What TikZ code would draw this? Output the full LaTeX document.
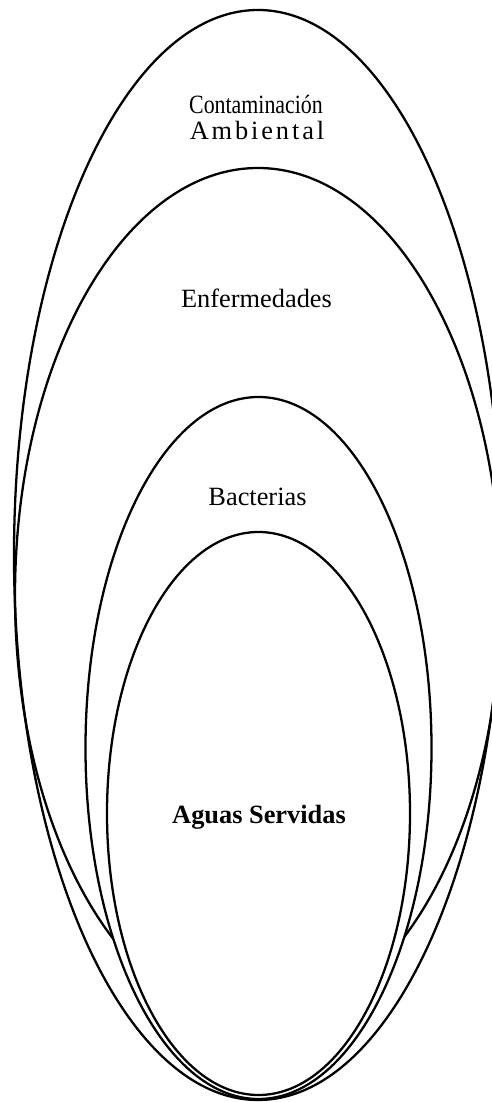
\documentclass[tikz,border=0pt]{standalone}
\usepackage{fontspec}
\setmainfont{Liberation Serif}
\usepackage{graphicx}
\usepackage{tikz}

\begin{document}
\begin{tikzpicture}[
  ring/.style={draw, line width=1.3pt},
  innerring/.style={ring, fill=white},
  ringtext/.style={anchor=base, inner sep=0pt, font=\fontsize{15}{18}\selectfont}
]
  \useasboundingbox (0,0) rectangle (9.84,22.04);
  \clip (0,0) rectangle (9.84,22.04);

  %% Rings — outer to inner, the inner two cover the second one
  \draw[ring]      (5.16,10.94) ellipse [x radius=4.88, y radius=10.9];
  \draw[ring]      (5.16,10.13) ellipse [x radius=4.86, y radius=8.55];
  \draw[innerring] (5.17,7.08)  ellipse [x radius=3.46, y radius=7.02];
  \draw[innerring] (5.17,5.77)  ellipse [x radius=3.03, y radius=5.63];

  %% Texts — one per ring
  \node[ringtext] (cont) at (5.12,19.76) {\scalebox{0.83}[1]{Contaminación}};
  \node[ringtext] (amb)  at (5.14,19.24) {\addfontfeatures{LetterSpace=11}Ambiental};
  \node[ringtext] (enf)  at (5.13,15.88) {Enfermedades};
  \node[ringtext] (bac)  at (5.15,11.92) {Bacterias};
  \node[ringtext] (agu)  at (5.18,5.56)  {\bfseries Aguas Servidas};
\end{tikzpicture}
\end{document}
